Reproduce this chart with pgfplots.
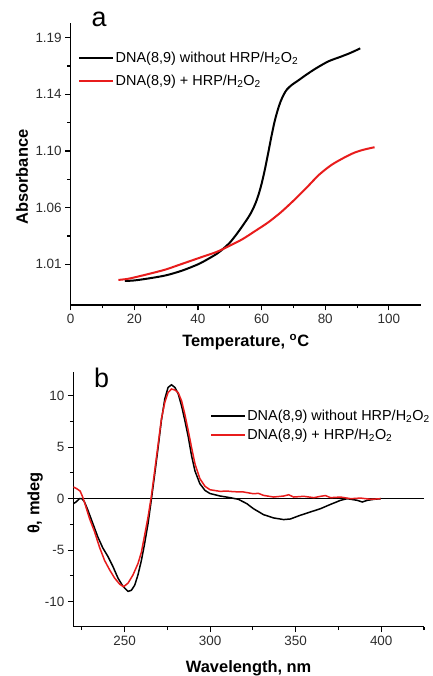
\documentclass[border=0pt]{standalone}
\usepackage{fontspec}
\setmainfont{Liberation Sans}
\usepackage{pgfplots}
\pgfplotsset{compat=1.18}
\definecolor{CurveRed}{RGB}{232,28,28}
\definecolor{TickGray}{RGB}{45,45,45}

\pgfplotsset{
  panel/.style={
    scale only axis,
    anchor=south west,
    axis lines=left,
    axis line style={-, line width=1.3bp, black},
    tick align=outside,
    major tick length=5.5bp,
    minor tick length=3.5bp,
    every tick/.style={black, line width=1.1bp},
    minor tick num=1,
    tick label style={font=\fontsize{13.5}{15}\selectfont, text=TickGray},
    /pgf/number format/assume math mode=true,
    label style={font=\fontsize{16.5}{19}\selectfont\bfseries},
    legend cell align=left,
    legend style={draw=none, fill=none, inner sep=0pt,
      font=\fontsize{14.5}{17}\selectfont, row sep=5bp,
      nodes={inner sep=1.5bp}},
    legend image code/.code={\draw[#1] (0bp,0bp) -- (34bp,0bp);},
  },
}

\begin{document}
\begin{tikzpicture}
\path[use as bounding box] (0bp,0bp) rectangle (433bp,676bp);

% panel a: melting curves
\begin{axis}[panel,
  at={(70.7bp,371bp)},
  width=350bp, height=282.3bp,
  xmin=0, xmax=110,
  ymin=0.9777, ymax=1.2019,
  xtick={0,20,40,60,80,100},
  ytick={1.01,1.055,1.1,1.145,1.19},
  yticklabels={1.01,1.06,1.10,1.14,1.19},
  xlabel={Temperature, \textsuperscript{o}C},
  ylabel={Absorbance},
  xlabel style={at={(axis description cs:0.5,-0.131)}, anchor=center},
  ylabel style={at={(axis description cs:-0.139,0.453)}, anchor=center},
  legend style={at={(rel axis cs:0.021,0.902)}, anchor=north west, row sep=8bp},
]
\addplot[black, line width=2bp, smooth] coordinates {
  (17,0.9968) (20,0.9972) (25,0.9990) (30,1.0013) (35,1.0050) (40,1.0100)
  (43,1.0140) (46,1.0185) (48,1.0225) (50,1.0272) (52,1.0335) (54,1.0405)
  (56,1.0480) (57,1.0525) (58,1.0580) (59,1.0650) (60,1.0740) (61,1.0850)
  (62,1.0975) (63,1.1105) (64,1.1225) (65,1.1320) (66,1.1395) (67,1.1450)
  (68,1.1490) (69.5,1.1525) (71.5,1.1560) (74,1.1605) (77,1.1655)
  (81,1.1712) (85,1.1750) (88,1.1780) (91,1.1815)
};
\addlegendentry{DNA(8,9) without HRP/H\textsubscript{2}O\textsubscript{2}}
\addplot[CurveRed, line width=2bp, smooth] coordinates {
  (15,0.9976) (18,0.9985) (22,1.0008) (26,1.0033) (30,1.0060) (34,1.0095)
  (38,1.0130) (42,1.0165) (46,1.0200) (50,1.0248) (54,1.0300) (58,1.0365)
  (62,1.0432) (66,1.0512) (70,1.0605) (74,1.0705) (78,1.0810) (82,1.0890)
  (86,1.0948) (89,1.0985) (92,1.1010) (95.5,1.1030)
};
\addlegendentry{DNA(8,9) + HRP/H\textsubscript{2}O\textsubscript{2}}
\end{axis}

% panel b: CD spectra
\begin{axis}[panel,
  at={(73.3bp,49.3bp)},
  width=350.7bp, height=255bp,
  xmin=220, xmax=425,
  ymin=-12.43, ymax=12.33,
  xtick={250,300,350,400},
  minor xtick={225,275,325,375,425},
  ytick={-10,-5,0,5,10},
  xlabel={Wavelength, nm},
  ylabel={θ, mdeg},
  xlabel style={at={(axis description cs:0.5,-0.162)}, anchor=center},
  ylabel style={at={(axis description cs:-0.109,0.485)}, anchor=center},
  legend style={at={(rel axis cs:0.39,0.857)}, anchor=north west, row sep=4bp},
]
\addplot[black, line width=1.1bp, forget plot] coordinates {(220,0) (425,0)};
\addplot[black, line width=1.5bp] coordinates {
  (220.1,-0.48) (221.6,-0.32) (223.6,0) (225.1,0) (226.5,-0.3) (228.5,-1.1)
  (231.4,-2.4) (234.3,-3.7) (237.3,-4.8) (240.2,-5.6) (243.2,-6.6) (246.1,-7.7)
  (249,-8.5) (252,-9.0) (253.9,-8.9) (255.9,-8.4) (257.8,-7.4) (259.8,-6.0)
  (261.7,-4.35) (263.7,-2.4) (265.7,0) (267.6,2.4) (269.6,5.0) (271.5,7.6)
  (273.5,9.7) (275.4,10.8) (277.4,11.06) (279.4,10.8) (281.3,10.2) (283.3,9.0)
  (285.2,7.6) (287.2,6.0) (289.1,4.2) (291.1,2.7) (294,1.45) (297,0.8)
  (299.9,0.5) (305.8,0.26) (311.6,0.1) (316.5,-0.06) (321.4,-0.48) (325.3,-0.97)
  (331.2,-1.55) (337.1,-1.87) (343,-2.03) (346.9,-1.97) (352.7,-1.61) (358.6,-1.29)
  (364.5,-0.97) (370.4,-0.55) (376.2,-0.16) (380.1,0) (386,-0.16) (388.9,-0.32)
  (391.9,-0.16) (395.8,-0.06) (399.7,0)
};
\addlegendentry{DNA(8,9) without HRP/H\textsubscript{2}O\textsubscript{2}}
\addplot[CurveRed, line width=1.5bp] coordinates {
  (220.1,1.13) (222,0.97) (224,0.74) (225.5,0.16) (227.1,-0.65) (229.5,-1.94)
  (232.4,-3.2) (235.3,-4.7) (238.3,-6.0) (241.2,-6.9) (244.1,-7.7) (247.1,-8.3)
  (249.4,-8.55) (252,-8.2) (254.9,-7.4) (257.8,-6.3) (259.8,-5.2) (261.7,-3.55)
  (263.7,-1.77) (265.7,0.32) (267.6,2.74) (269.6,5.3) (271.5,7.74) (273.5,9.35)
  (275.4,10.3) (277.4,10.65) (279.4,10.55) (281.3,10.3) (283.3,9.5) (285.2,8.2)
  (287.2,6.6) (289.1,5.0) (291.1,3.4) (294,1.94) (297,1.2) (299.9,0.87)
  (305.8,0.71) (309.7,0.74) (313.6,0.68) (319.5,0.65) (325.3,0.48) (328.2,0.52)
  (331.2,0.32) (337.1,0.16) (343,0.26) (345.9,0.38) (348.8,0.16) (354.7,0.23)
  (360.6,0.1) (364.5,0.23) (367.4,0.3) (370.4,0.1) (376.2,0.16) (382.1,0)
  (388,0.06) (393.8,-0.06) (399.7,0)
};
\addlegendentry{DNA(8,9) + HRP/H\textsubscript{2}O\textsubscript{2}}
\end{axis}

\node[font=\fontsize{27}{30}\selectfont] at (99bp,657bp) {a};
\node[font=\fontsize{27}{30}\selectfont] at (101.7bp,297.7bp) {b};
\end{tikzpicture}
\end{document}
